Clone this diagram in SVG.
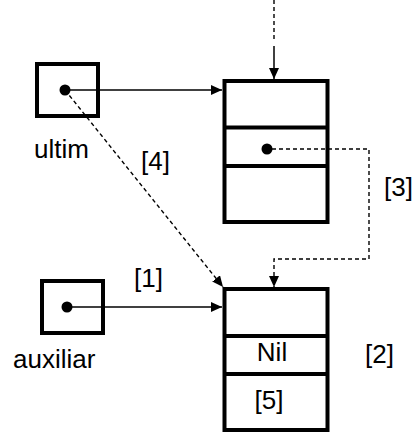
<svg xmlns="http://www.w3.org/2000/svg" width="414" height="432" viewBox="0 0 414 432">
<style>
.box{fill:none;stroke:#000;stroke-width:4}
.dot{fill:#000}
.ln{fill:none;stroke:#000;stroke-width:1.5}
.dash{fill:none;stroke:#000;stroke-width:1.4;stroke-dasharray:4 3}
text{font-family:"Liberation Sans",Arial,sans-serif;font-size:26px;fill:#000}
.mid{text-anchor:middle}
</style>
<defs>
<marker id="ah" viewBox="0 0 11 10" refX="11" refY="5" markerWidth="11" markerHeight="10" markerUnits="userSpaceOnUse" orient="auto">
<path d="M0,0 L11,5 L0,10 Z" fill="#000"/>
</marker>
</defs>
<rect width="414" height="432" fill="#fff"/>
<g id="ultim">
<rect class="box" x="37" y="64" width="61" height="52"/>
<circle class="dot" cx="65" cy="90" r="5.5"/>
<text x="34" y="158">ultim</text>
</g>
<g id="auxiliar">
<rect class="box" x="42" y="281" width="61" height="52"/>
<circle class="dot" cx="67" cy="307" r="5.5"/>
<text x="13" y="368">auxiliar</text>
</g>
<g id="node1">
<rect class="box" x="224.5" y="81" width="103" height="141"/>
<line class="box" x1="224.5" y1="127.5" x2="327.5" y2="127.5"/>
<line class="box" x1="224.5" y1="166" x2="327.5" y2="166"/>
<circle class="dot" cx="267" cy="149" r="5.5"/>
</g>
<g id="node2">
<rect class="box" x="224.5" y="289" width="103" height="141"/>
<line class="box" x1="224.5" y1="336" x2="327.5" y2="336"/>
<line class="box" x1="224.5" y1="374" x2="327.5" y2="374"/>
<text class="mid" x="272" y="361">Nil</text>
<text class="mid" x="269" y="409">[5]</text>
</g>
<g id="connectors">
<line class="dash" x1="274" y1="0" x2="274" y2="40"/>
<line class="ln" x1="274" y1="46" x2="274" y2="79" marker-end="url(#ah)"/>
<line class="ln" x1="70" y1="90" x2="222" y2="90" marker-end="url(#ah)"/>
<line class="dash" x1="65" y1="90" x2="223" y2="287" marker-end="url(#ah)"/>
<polyline class="dash" points="272,149 369,149 369,259 274,259 274,287" marker-end="url(#ah)"/>
<line class="ln" x1="72" y1="307" x2="222" y2="307" marker-end="url(#ah)"/>
</g>
<g id="labels">
<text x="141" y="170">[4]</text>
<text x="384" y="196">[3]</text>
<text x="134" y="287">[1]</text>
<text x="365" y="363">[2]</text>
</g>
</svg>
